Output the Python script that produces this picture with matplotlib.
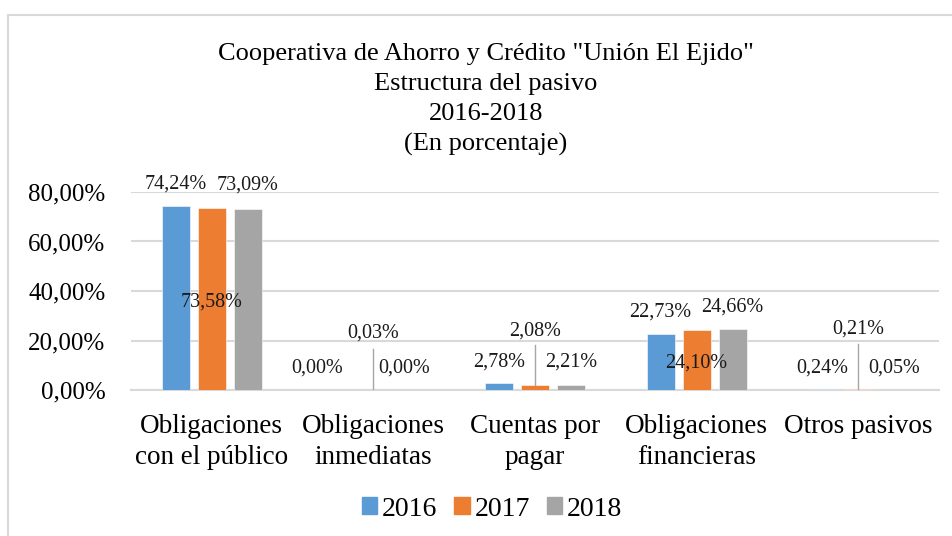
import matplotlib
matplotlib.use("Agg")
import matplotlib.pyplot as plt
import numpy as np
from matplotlib.patches import Rectangle

plt.rcParams['font.family'] = ['Liberation Serif', 'DejaVu Serif']

categories = ["Obligaciones\ncon el público", "Obligaciones\ninmediatas",
              "Cuentas por\npagar", "Obligaciones\nfinancieras", "Otros pasivos"]
years = ["2016", "2017", "2018"]
v2016 = [74.24, 0.00, 2.78, 22.73, 0.24]
v2017 = [73.58, 0.03, 2.08, 24.10, 0.21]
v2018 = [73.09, 0.00, 2.21, 24.66, 0.05]
yticks = [0, 20, 40, 60, 80]

colors = ["#5B9BD5", "#ED7D31", "#A5A5A5"]

# label positions: (x shift in category units, y in data units)
label_pos = [
    [(0.0, 83.2), (0.0, 35.6), (0.0, 82.8)],
    [(-0.125, 8.9), (0.0, 23.0), (-0.03, 8.9)],
    [(0.0, 11.4), (0.0, 23.8), (0.0, 11.2)],
    [(0.0, 31.5), (0.0, 11.0), (0.0, 33.5)],
    [(0.0, 8.9), (0.0, 24.6), (0.0, 8.9)],
]
leaders = {1: 16.5, 2: 18.0, 4: 18.5}  # category -> leader top (for 2017)

W, H = 953, 536
fig = plt.figure(figsize=(W / 100, H / 100), dpi=100)
ax = fig.add_axes([131 / W, 1 - 390 / H, (939 - 131) / W, (390 - 192) / H])

series = [v2016, v2017, v2018]
x = np.arange(len(categories))
bw = 0.173
step = 0.223
for i, vals in enumerate(series):
    ax.bar(x + (i - 1) * step, vals, width=bw, color=colors[i],
           edgecolor="white", linewidth=0.4, zorder=3)

for c in range(len(categories)):
    for i, vals in enumerate(series):
        dx, ly = label_pos[c][i]
        xc = c + (i - 1) * step + dx
        ax.text(xc, ly, f"{vals[c]:.2f}%".replace(".", ","), ha="center",
                va="center", fontsize=14.5, color="#1a1a1a", zorder=5)
    if c in leaders:
        ax.plot([c, c], [series[1][c], leaders[c]], color="#A6A6A6",
                lw=1.0, zorder=4)

ax.set_xlim(-0.5, len(categories) - 0.5)
ax.set_ylim(0, 80)
ax.set_yticks(yticks)
ax.set_yticklabels([f"{t:.2f}%".replace(".", ",") for t in yticks], fontsize=18)
ax.set_xticks(x)
ax.set_xticklabels(categories, fontsize=19.5, linespacing=1.32)
ax.tick_params(axis="y", length=0, pad=18.5)
ax.tick_params(axis="x", length=0, pad=17.5)
ax.grid(axis="y", color="#D9D9D9", lw=1.5, zorder=0)
ax.set_axisbelow(True)
for s in ["top", "right", "left"]:
    ax.spines[s].set_visible(False)
ax.spines["bottom"].set_color("#D9D9D9")
ax.spines["bottom"].set_linewidth(1.5)

title_lines = ['Cooperativa de Ahorro y Crédito "Unión El Ejido"',
               "Estructura del pasivo", "2016-2018", "(En porcentaje)"]
for k, t in enumerate(title_lines):
    fig.text(486 / W, 1 - (54 + 30 * k) / H, t, ha="center", va="center",
             fontsize=19)

handles = [Rectangle((0, 0), 1, 1, color=c) for c in colors]
fig.legend(handles, years, loc="center", bbox_to_anchor=(492 / W, 1 - 509 / H),
           ncol=3, frameon=False, fontsize=20, handlelength=0.55,
           handleheight=0.55, handletextpad=0.18, columnspacing=0.6)

fig.add_artist(Rectangle((8 / W, -0.05), 1.1, 1 - 15 / H + 0.05,
                         transform=fig.transFigure, fill=False,
                         edgecolor="#D9D9D9", lw=1.5))

fig.savefig("out.png", dpi=100)
